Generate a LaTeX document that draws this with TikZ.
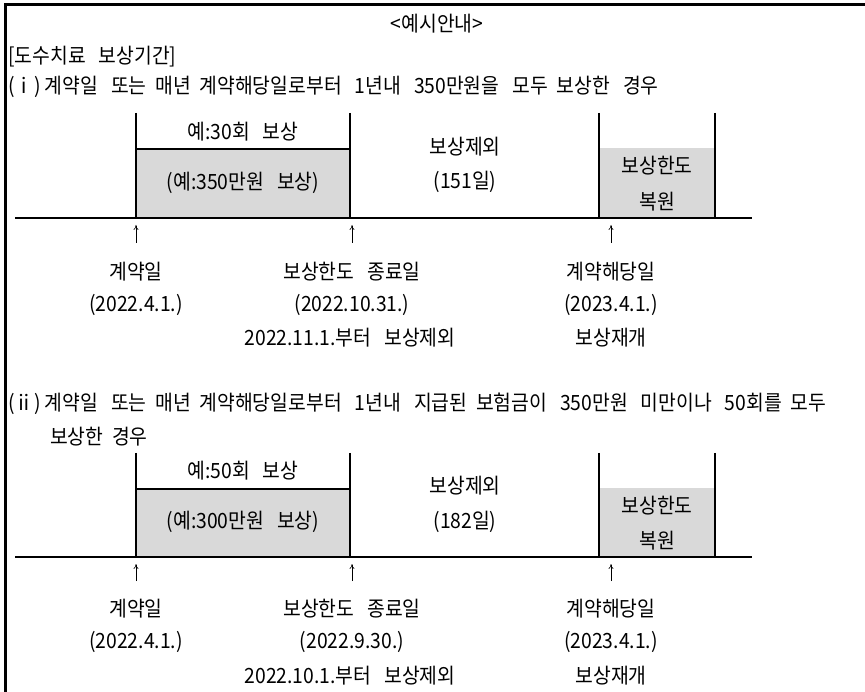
\documentclass[tikz,border=0pt]{standalone}
\usepackage{fontspec}
\usetikzlibrary{arrows.meta}
\setmainfont[FakeStretch=0.92]{Noto Sans CJK KR}
\begin{document}
\begin{tikzpicture}[x=1pt,y=-1pt,
  txt/.style={inner sep=0pt,font=\fontsize{21}{23}\selectfont},
  ltxt/.style={txt,anchor=west},
  bar/.style={line width=1.8pt},
  up/.style={-{To[length=5pt,width=5pt]},line width=0.6pt},
  shade/.style={fill=black!15}]
\useasboundingbox (0,0) rectangle (865,692);
% frame
\draw[line width=3pt] (5,692) -- (5,4.5) -- (865,4.5);
\node[txt] (title) at (437,24) {<예시안내>};
\node[ltxt] (head) at (8,57) {[도수치료~~ 보상기간]};
\node[ltxt] (c1) at (8,87) {(ⅰ) 계약일~~ 또는~ 매년~ 계약해당일로부터~~ 1년내~~ 350만원을~~ 모두~ 보상한~~ 경우};
% ---------- diagram 1
\fill[shade] (136,149) rectangle (350,218);
\fill[shade] (599,148) rectangle (715,218);
\coordinate (v1t) at (136,113); \coordinate (v1b) at (136,218);
\coordinate (v2t) at (350,113); \coordinate (v2b) at (350,218);
\coordinate (v3t) at (599,113); \coordinate (v3b) at (599,218);
\coordinate (v4t) at (715,113); \coordinate (v4b) at (715,218);
\coordinate (b1l) at (15,218); \coordinate (b1r) at (752,218);
\draw[bar] (v1t) -- (v1b); \draw[bar] (v2t) -- (v2b);
\draw[bar] (v3t) -- (v3b); \draw[bar] (v4t) -- (v4b);
\draw[bar] (136,149) -- (350,149);
\draw[bar] (b1l) -- (b1r);
\node[txt] (n30) at (243,132) {예:30회~~ 보상};
\node[txt] (n350) at (243,183) {(예:350만원~~ 보상)};
\node[txt] (ex1) at (465,147) {보상제외};
\node[txt] (d151) at (465,182) {(151일)};
\node[txt] (rs1) at (657,166) {보상한도};
\node[txt] (rs1b) at (657,202) {복원};
\coordinate (a1s) at (136,243); \coordinate (a1e) at (136,225);
\coordinate (a2s) at (352,243); \coordinate (a2e) at (352,225);
\coordinate (a3s) at (611,243); \coordinate (a3e) at (611,225);
\draw[up] (a1s) -- (a1e); \draw[up] (a2s) -- (a2e); \draw[up] (a3s) -- (a3e);
\node[txt] (k1) at (136,272) {계약일};
\node[txt] (k1d) at (136,305) {(2022.4.1.)};
\node[txt] (e1) at (352,272) {보상한도~~ 종료일};
\node[txt] (e1d) at (352,305) {(2022.10.31.)};
\node[txt] (e1x) at (350,338) {2022.11.1.부터~~ 보상제외};
\node[txt] (r1) at (611,272) {계약해당일};
\node[txt] (r1d) at (611,305) {(2023.4.1.)};
\node[txt] (r1x) at (611,338) {보상재개};
% ---------- diagram 2
\node[ltxt] (c2) at (8,404) {(ⅱ) 계약일~~ 또는~ 매년~ 계약해당일로부터~~ 1년내~~ 지급된~ 보험금이~~ 350만원~~ 미만이나~~ 50회를~ 모두};
\node[ltxt] (c2b) at (50,437) {보상한~ 경우};
\fill[shade] (136,489) rectangle (350,557);
\fill[shade] (599,488) rectangle (715,557);
\coordinate (w1t) at (136,453); \coordinate (w1b) at (136,557);
\coordinate (w2t) at (350,453); \coordinate (w2b) at (350,557);
\coordinate (w3t) at (599,453); \coordinate (w3b) at (599,557);
\coordinate (w4t) at (715,453); \coordinate (w4b) at (715,557);
\coordinate (b2l) at (15,557); \coordinate (b2r) at (752,557);
\draw[bar] (w1t) -- (w1b); \draw[bar] (w2t) -- (w2b);
\draw[bar] (w3t) -- (w3b); \draw[bar] (w4t) -- (w4b);
\draw[bar] (136,489) -- (350,489);
\draw[bar] (b2l) -- (b2r);
\node[txt] (n50) at (243,471) {예:50회~~ 보상};
\node[txt] (n300) at (243,522) {(예:300만원~~ 보상)};
\node[txt] (ex2) at (465,486) {보상제외};
\node[txt] (d182) at (465,522) {(182일)};
\node[txt] (rs2) at (657,506) {보상한도};
\node[txt] (rs2b) at (657,541) {복원};
\coordinate (b1s) at (136,581); \coordinate (b1e) at (136,564);
\coordinate (b2s) at (352,581); \coordinate (b2e) at (352,564);
\coordinate (b3s) at (611,581); \coordinate (b3e) at (611,564);
\draw[up] (b1s) -- (b1e); \draw[up] (b2s) -- (b2e); \draw[up] (b3s) -- (b3e);
\node[txt] (k2) at (136,609) {계약일};
\node[txt] (k2d) at (136,642) {(2022.4.1.)};
\node[txt] (e2) at (352,609) {보상한도~~ 종료일};
\node[txt] (e2d) at (352,642) {(2022.9.30.)};
\node[txt] (e2x) at (350,676) {2022.10.1.부터~~ 보상제외};
\node[txt] (r2) at (611,609) {계약해당일};
\node[txt] (r2d) at (611,642) {(2023.4.1.)};
\node[txt] (r2x) at (611,676) {보상재개};
\end{tikzpicture}
\end{document}
